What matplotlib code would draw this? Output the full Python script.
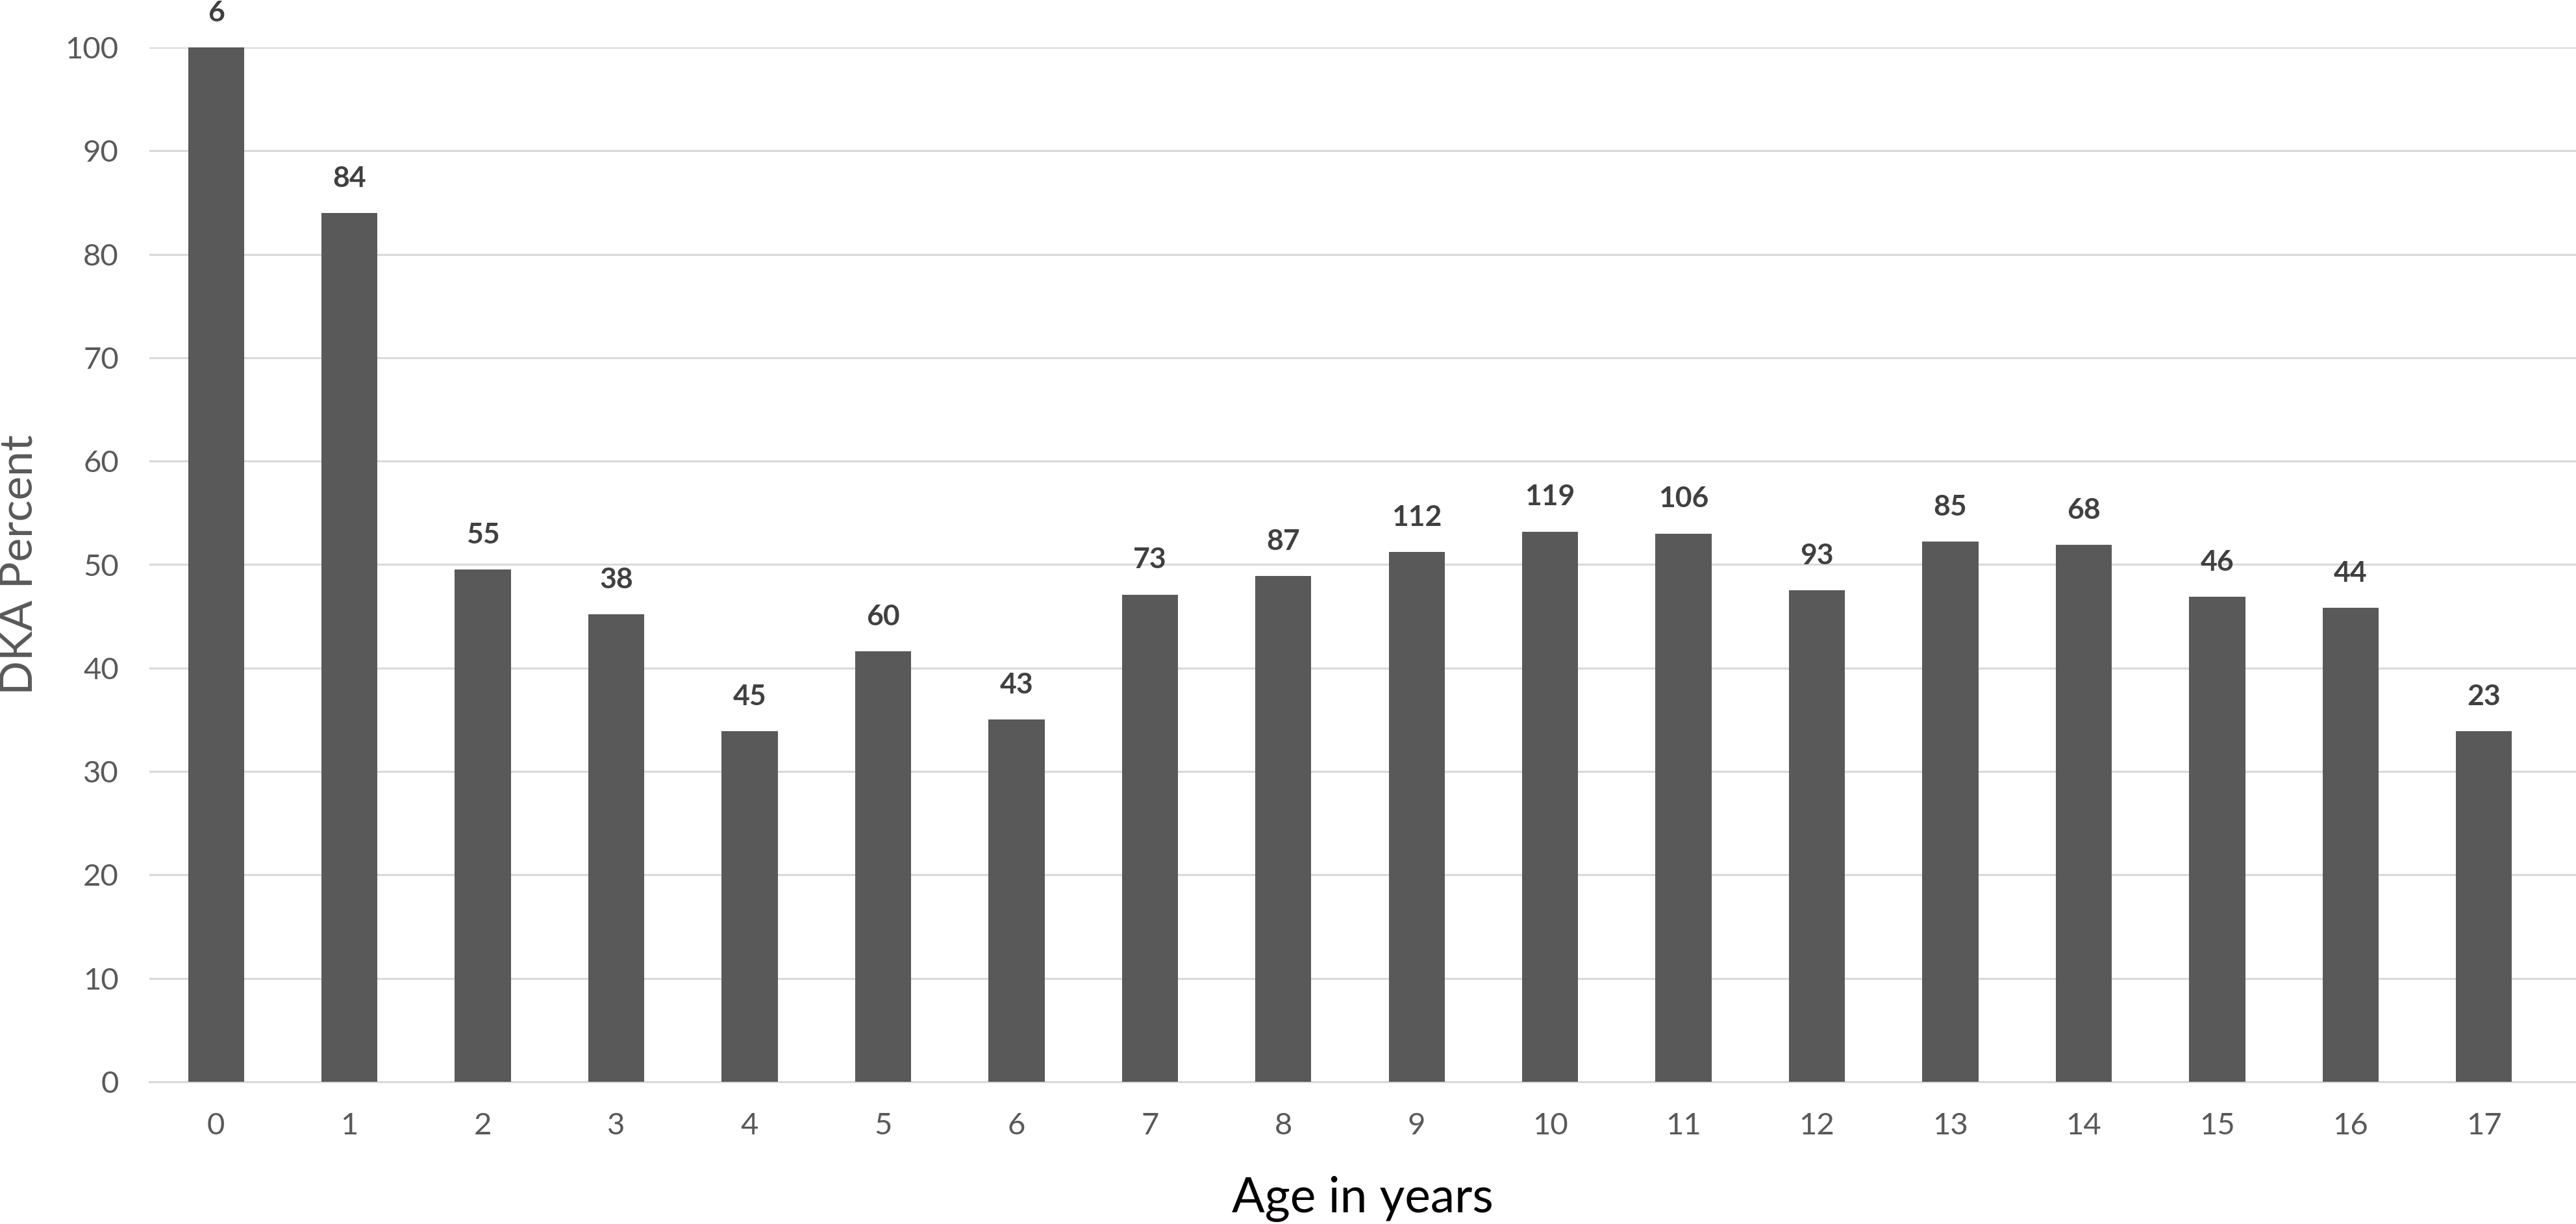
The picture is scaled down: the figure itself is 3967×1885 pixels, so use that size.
import matplotlib
matplotlib.use("Agg")
import matplotlib.pyplot as plt

ages = list(range(18))
dka_percent = [100.0, 84.0, 49.5, 45.2, 33.9, 41.6, 35.0, 47.1, 48.9, 51.2,
               53.2, 53.0, 47.5, 52.2, 51.9, 46.9, 45.8, 33.9]
counts = [6, 84, 55, 38, 45, 60, 43, 73, 87, 112, 119, 106, 93, 85, 68, 46, 44, 23]

plt.rcParams['font.family'] = ['Lato', 'DejaVu Sans']

dpi = 100
fig = plt.figure(figsize=(3967 / dpi, 1885 / dpi), dpi=dpi)
ax = fig.add_axes([230 / 3967, 1 - 1666 / 1885, (3967 - 230) / 3967, (1666 - 73) / 1885])

bars = ax.bar(ages, dka_percent, width=0.42, color="#595959", zorder=3)

for x, y, c in zip(ages, dka_percent, counts):
    ax.annotate(str(c), (x, y), xytext=(0, 24), textcoords="offset points",
                ha="center", va="bottom", fontsize=32, fontweight="bold",
                color="#404040")

ax.set_xlim(-0.5, 17.69)
ax.set_ylim(0, 100)
ax.set_yticks(range(0, 101, 10))
ax.set_xticks(ages)
ax.grid(axis="y", color="#d9d9d9", linewidth=2.2, zorder=0)
ax.set_axisbelow(True)
for s in ["top", "right", "left"]:
    ax.spines[s].set_visible(False)
ax.spines["bottom"].set_color("#d9d9d9")
ax.spines["bottom"].set_linewidth(2.2)
ax.tick_params(axis="both", length=0, labelsize=34, labelcolor="#595959")
ax.tick_params(axis="y", pad=34)
ax.tick_params(axis="x", pad=34)

ax.set_xlabel("Age in years", fontsize=54, color="#000000", labelpad=40)
ax.set_ylabel("DKA Percent", fontsize=50, color="#595959")
ax.yaxis.set_label_coords(-0.045, 0.5)

fig.savefig("out.png", dpi=dpi)
